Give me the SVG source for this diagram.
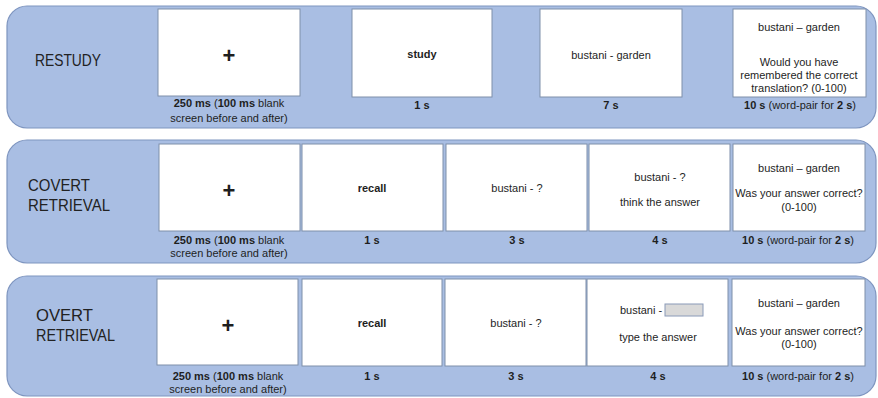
<svg xmlns="http://www.w3.org/2000/svg" width="878" height="398" viewBox="0 0 878 398">
<style>
.band{fill:#a9bee3;stroke:#7e95bf;stroke-width:1.2}
.box{fill:#ffffff;stroke:#7f8faa;stroke-width:1}
text{font-family:"Liberation Sans",Arial,sans-serif;fill:#1e1e1e}
.title{font-size:17px;fill:#222}
.t{font-size:11px;text-anchor:middle}
.b{font-weight:bold}
.plus{font-size:22px;font-weight:bold;text-anchor:middle}
.inp{fill:#d9d9d9;stroke:#8a9ab8;stroke-width:1}
</style>
<rect width="878" height="398" fill="#ffffff"/>

<!-- Row 1: RESTUDY -->
<g id="row-restudy">
<rect class="band" x="7" y="6" width="869" height="122" rx="20"/>
<text class="title" x="35" y="66" textLength="66" lengthAdjust="spacingAndGlyphs">RESTUDY</text>
</g>
<g id="r1-fixation">
<rect class="box" x="158" y="9" width="142" height="87"/>
<text class="plus" x="229" y="63">+</text>
<text class="t" x="229" y="107"><tspan class="b">250 ms</tspan> (<tspan class="b">100 ms</tspan> blank</text>
<text class="t" x="229" y="122">screen before and after)</text>
</g>
<g id="r1-study">
<rect class="box" x="352" y="9" width="140" height="88"/>
<text class="t b" x="422" y="58">study</text>
<text class="t b" x="422" y="109">1 s</text>
</g>
<g id="r1-pair">
<rect class="box" x="540" y="9" width="142" height="88"/>
<text class="t" x="611" y="59">bustani - garden</text>
<text class="t b" x="611" y="109">7 s</text>
</g>
<g id="r1-judgement">
<rect class="box" x="733" y="9" width="133" height="88"/>
<text class="t" x="799" y="31">bustani – garden</text>
<text class="t" x="799" y="66">Would you have</text>
<text class="t" x="799" y="79">remembered the correct</text>
<text class="t" x="799" y="92">translation? (0-100)</text>
<text class="t" x="800" y="109"><tspan class="b">10 s</tspan> (word-pair for <tspan class="b">2 s</tspan>)</text>
</g>

<!-- Row 2: COVERT RETRIEVAL -->
<g id="row-covert">
<rect class="band" x="7" y="140" width="869" height="123" rx="20"/>
<text class="title" x="28" y="191" textLength="62" lengthAdjust="spacingAndGlyphs">COVERT</text>
<text class="title" x="28" y="211" textLength="82" lengthAdjust="spacingAndGlyphs">RETRIEVAL</text>
</g>
<g id="r2-fixation">
<rect class="box" x="159" y="144" width="141" height="87"/>
<text class="plus" x="229" y="198">+</text>
<text class="t" x="229" y="244"><tspan class="b">250 ms</tspan> (<tspan class="b">100 ms</tspan> blank</text>
<text class="t" x="229" y="257">screen before and after)</text>
</g>
<g id="r2-recall">
<rect class="box" x="302" y="144" width="141" height="87"/>
<text class="t b" x="372" y="192">recall</text>
<text class="t b" x="372" y="244">1 s</text>
</g>
<g id="r2-cue">
<rect class="box" x="446" y="144" width="141" height="87"/>
<text class="t" x="517" y="192">bustani - ?</text>
<text class="t b" x="517" y="244">3 s</text>
</g>
<g id="r2-think">
<rect class="box" x="589" y="144" width="141" height="87"/>
<text class="t" x="660" y="181">bustani - ?</text>
<text class="t" x="660" y="206">think the answer</text>
<text class="t b" x="660" y="244">4 s</text>
</g>
<g id="r2-judgement">
<rect class="box" x="733" y="144" width="132" height="87"/>
<text class="t" x="799" y="172">bustani – garden</text>
<text class="t" x="799" y="197">Was your answer correct?</text>
<text class="t" x="799" y="211">(0-100)</text>
<text class="t" x="798" y="244"><tspan class="b">10 s</tspan> (word-pair for <tspan class="b">2 s</tspan>)</text>
</g>

<!-- Row 3: OVERT RETRIEVAL -->
<g id="row-overt">
<rect class="band" x="7" y="276" width="869" height="120" rx="20"/>
<text class="title" x="36" y="321" textLength="57" lengthAdjust="spacingAndGlyphs">OVERT</text>
<text class="title" x="36" y="341" textLength="79" lengthAdjust="spacingAndGlyphs">RETRIEVAL</text>
</g>
<g id="r3-fixation">
<rect class="box" x="157" y="279" width="141" height="86"/>
<text class="plus" x="228" y="333">+</text>
<text class="t" x="228" y="380"><tspan class="b">250 ms</tspan> (<tspan class="b">100 ms</tspan> blank</text>
<text class="t" x="228" y="393">screen before and after)</text>
</g>
<g id="r3-recall">
<rect class="box" x="302" y="279" width="140" height="87"/>
<text class="t b" x="372" y="327">recall</text>
<text class="t b" x="372" y="380">1 s</text>
</g>
<g id="r3-cue">
<rect class="box" x="445" y="279" width="141" height="87"/>
<text class="t" x="516" y="327">bustani - ?</text>
<text class="t b" x="516" y="380">3 s</text>
</g>
<g id="r3-type">
<rect class="box" x="587" y="279" width="141" height="87"/>
<text class="t" x="641" y="314">bustani -</text>
<rect class="inp" x="665" y="304" width="38" height="12"/>
<text class="t" x="658" y="341">type the answer</text>
<text class="t b" x="658" y="380">4 s</text>
</g>
<g id="r3-judgement">
<rect class="box" x="732" y="279" width="133" height="87"/>
<text class="t" x="799" y="307">bustani – garden</text>
<text class="t" x="799" y="335">Was your answer correct?</text>
<text class="t" x="799" y="348">(0-100)</text>
<text class="t" x="798" y="380"><tspan class="b">10 s</tspan> (word-pair for <tspan class="b">2 s</tspan>)</text>
</g>

<g id="connectors"></g>
</svg>
